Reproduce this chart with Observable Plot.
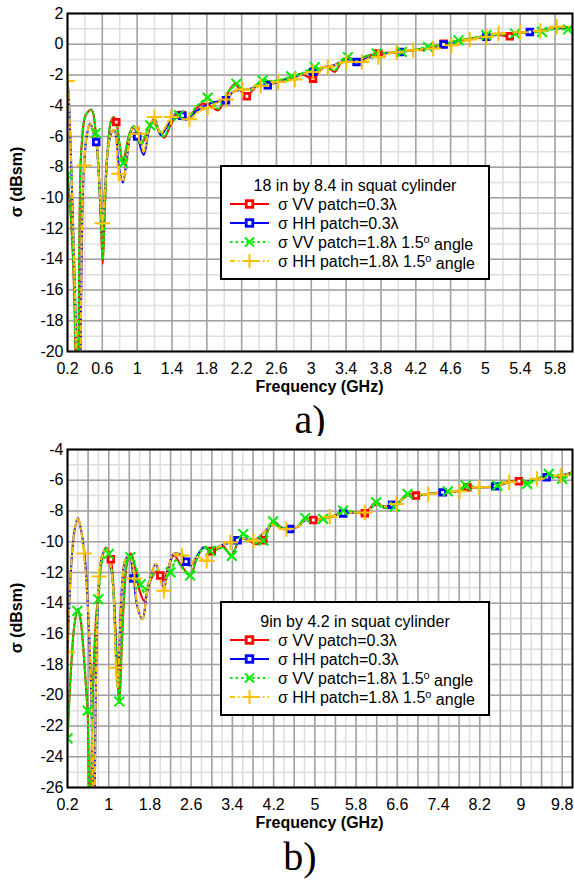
<!DOCTYPE html>
<html><head><meta charset="utf-8">
<script src="https://cdn.jsdelivr.net/npm/d3@7"></script>
<script src="https://cdn.jsdelivr.net/npm/@observablehq/plot@0.6"></script>
<style>
html,body{margin:0;padding:0;background:#fff;}
body{width:574px;height:880px;position:relative;overflow:hidden;font-family:Arial,"Liberation Sans",sans-serif;}
.panel{position:absolute;left:0;}
</style></head><body>
<div id="pa" class="panel" style="top:0px"></div>
<div id="pb" class="panel" style="top:436px"></div>
<script>
// ---------- Panel a: 18 in by 8.4 in squat cylinder ----------
const aXTicks = [0.2,0.6,1,1.4,1.8,2.2,2.6,3,3.4,3.8,4.2,4.6,5,5.4,5.8];
const aYTicks = [2,0,-2,-4,-6,-8,-10,-12,-14,-16,-18,-20];

const aVV_f = [0.20,0.23,0.26,0.285,0.305,0.315,0.325,0.34,0.36,0.41,0.476,0.52,0.55,0.58,0.605,0.63,0.66,0.70,0.73,0.76,0.80,0.835,0.87,0.92,0.965,1.00,1.04,1.09,1.14,1.18,1.24,1.31,1.38,1.48,1.58,1.66,1.75,1.84,1.93,2.02,2.12,2.20,2.26,2.34,2.44,2.55,2.66,2.78,2.89,3.02,3.10,3.17,3.27,3.35,3.42,3.52,3.62,3.77,3.90,4.02,4.15,4.27,4.40,4.52,4.65,4.76,4.90,5.01,5.15,5.28,5.40,5.51,5.62,5.72,5.85,6.00];
const aVV_v = [-8.5,-10.5,-13.5,-18,-25,-28,-22,-11,-6.8,-4.6,-4.26,-5.5,-7.5,-11,-14.3,-10.5,-7.0,-5.0,-4.74,-5.07,-6.6,-7.7,-6.9,-5.7,-5.35,-5.8,-6.55,-6.1,-5.3,-5.07,-5.5,-6.08,-5.3,-4.52,-4.85,-4.3,-3.87,-4.0,-4.3,-3.4,-2.6,-3.1,-3.4,-2.9,-2.35,-2.45,-2.35,-2.1,-1.95,-2.24,-1.7,-1.45,-1.8,-1.1,-0.85,-1.1,-0.8,-0.61,-0.55,-0.5,-0.4,-0.35,-0.2,0.0,0.2,0.3,0.4,0.52,0.6,0.52,0.75,0.8,0.85,1.0,1.05,1.12];

const aHH_f = [0.20,0.215,0.235,0.26,0.29,0.32,0.335,0.35,0.37,0.39,0.42,0.46,0.50,0.53,0.56,0.60,0.63,0.67,0.71,0.74,0.79,0.836,0.88,0.93,0.965,1.00,1.075,1.14,1.20,1.27,1.36,1.465,1.56,1.65,1.75,1.88,2.02,2.10,2.21,2.30,2.40,2.50,2.62,2.75,2.88,3.02,3.15,3.27,3.40,3.52,3.65,3.77,3.90,4.02,4.17,4.27,4.40,4.52,4.65,4.76,4.90,5.01,5.15,5.28,5.40,5.51,5.63,5.72,5.85,6.00];
const aHH_v = [-2.4,-3.5,-6.5,-11,-17,-24,-28,-20,-11,-7.9,-6.0,-5.15,-5.8,-6.37,-8.5,-12.2,-9.5,-6.6,-5.7,-5.6,-8.0,-9.0,-7.5,-5.7,-5.4,-5.9,-7.2,-5.5,-4.85,-5.9,-5.2,-4.41,-4.91,-4.5,-4.09,-3.76,-3.65,-3.1,-2.95,-2.9,-2.7,-2.67,-2.46,-2.25,-1.95,-1.8,-1.5,-1.35,-1.0,-1.15,-0.9,-0.7,-0.55,-0.5,-0.39,-0.32,-0.25,-0.02,0.15,0.3,0.42,0.48,0.65,0.7,0.78,0.8,0.87,1.0,1.08,1.12];

const aVV18_f = [0.20,0.23,0.26,0.285,0.305,0.315,0.325,0.34,0.36,0.41,0.476,0.526,0.55,0.58,0.605,0.63,0.66,0.70,0.73,0.76,0.80,0.84,0.87,0.92,0.965,1.00,1.04,1.09,1.15,1.18,1.24,1.31,1.38,1.48,1.58,1.66,1.75,1.81,1.88,1.93,2.02,2.14,2.20,2.26,2.34,2.44,2.55,2.66,2.77,2.89,3.04,3.10,3.17,3.27,3.35,3.42,3.52,3.62,3.75,3.90,4.04,4.15,4.34,4.52,4.69,4.85,5.01,5.15,5.34,5.51,5.65,5.80,5.95,6.00];
const aVV18_v = [-8.5,-10.5,-13.5,-18,-25,-28,-22,-11,-6.8,-4.6,-4.3,-5.78,-7.5,-11,-14.0,-10.5,-7.0,-5.0,-4.8,-5.1,-6.6,-7.74,-6.9,-5.7,-5.35,-5.8,-6.5,-6.0,-5.28,-5.1,-5.5,-6.0,-5.2,-4.63,-4.85,-4.2,-3.7,-3.48,-3.9,-4.2,-3.3,-2.57,-3.0,-3.3,-2.8,-2.35,-2.4,-2.3,-2.09,-1.9,-1.48,-1.6,-1.45,-1.7,-1.0,-0.83,-1.05,-0.8,-0.61,-0.55,-0.5,-0.4,-0.18,0.0,0.26,0.4,0.59,0.6,0.7,0.78,0.8,1.0,0.96,1.05];

const aHH18_f = [0.20,0.215,0.235,0.26,0.29,0.32,0.335,0.35,0.37,0.39,0.42,0.46,0.50,0.53,0.56,0.60,0.63,0.67,0.71,0.74,0.79,0.836,0.88,0.93,0.965,1.02,1.075,1.14,1.20,1.27,1.39,1.465,1.60,1.70,1.81,1.92,2.02,2.10,2.21,2.32,2.42,2.52,2.62,2.71,2.81,2.90,3.02,3.19,3.27,3.40,3.48,3.58,3.67,3.77,3.90,4.02,4.17,4.27,4.40,4.52,4.61,4.72,4.82,4.92,5.01,5.15,5.28,5.40,5.51,5.63,5.72,5.82,6.00];
const aHH18_v = [-2.4,-3.5,-6.5,-11,-17,-24,-28,-20,-11,-7.9,-6.0,-5.15,-5.8,-6.4,-8.5,-11.65,-9.5,-6.6,-5.7,-5.6,-8.43,-8.9,-7.5,-5.7,-5.4,-5.82,-7.0,-5.4,-4.74,-5.8,-4.74,-4.45,-4.89,-4.4,-4.13,-3.8,-3.6,-3.1,-2.95,-2.9,-2.7,-2.65,-2.46,-2.4,-2.3,-1.95,-1.8,-1.48,-1.35,-1.15,-1.1,-1.15,-0.9,-0.83,-0.6,-0.5,-0.39,-0.32,-0.28,-0.05,-0.07,0.15,0.3,0.42,0.48,0.7,0.7,0.78,0.8,0.87,1.0,1.13,1.12];

// markers (panel a)
const aVVmk_f = [0.76,1.51,2.26,3.02,3.77,4.52,5.28];
const aVVmk_v = [-5.07,-4.6,-3.39,-2.24,-0.61,0.04,0.52];
const aHHmk_f = [0.53,1.0,1.52,2.02,2.5,3.02,3.52,4.02,4.52,5.01,5.51];
const aHHmk_v = [-6.37,-6.0,-4.65,-3.65,-2.67,-1.8,-1.15,-0.5,-0.02,0.48,0.8];
const aVV18mk_f = [0.2,0.526,0.84,1.15,1.48,1.81,2.14,2.44,2.77,3.04,3.42,3.75,4.04,4.34,4.69,5.01,5.34,5.65,5.95];
const aVV18mk_v = [-8.5,-5.78,-7.74,-5.28,-4.63,-3.48,-2.57,-2.35,-2.09,-1.48,-0.83,-0.61,-0.5,-0.18,0.26,0.59,0.7,0.8,0.96];
const aHH18mk_f = [0.2,0.39,0.6,0.79,1.02,1.2,1.39,1.6,1.81,2.02,2.21,2.42,2.62,2.81,3.02,3.19,3.4,3.58,3.77,3.98,4.17,4.4,4.61,4.82,5.01,5.15,5.4,5.63,5.82];
const aHH18mk_v = [-2.4,-7.9,-11.65,-8.43,-5.82,-4.74,-4.74,-4.89,-4.13,-3.6,-2.95,-2.7,-2.46,-2.3,-1.8,-1.48,-1.15,-1.15,-0.83,-0.52,-0.39,-0.28,-0.07,0.3,0.48,0.7,0.78,0.87,1.13];

// ---------- Panel b: 9in by 4.2 in squat cylinder ----------
const bXTicks = [0.2,1,1.8,2.6,3.4,4.2,5,5.8,6.6,7.4,8.2,9,9.8];
const bYTicks = [-4,-6,-8,-10,-12,-14,-16,-18,-20,-22,-24,-26];

const bVV_f = [0.20,0.27,0.335,0.40,0.45,0.496,0.56,0.59,0.615,0.635,0.66,0.70,0.75,0.785,0.85,0.946,1.04,1.10,1.16,1.205,1.25,1.30,1.36,1.43,1.52,1.60,1.69,1.80,1.94,2.05,2.15,2.26,2.42,2.58,2.70,2.84,2.97,3.10,3.22,3.38,3.55,3.70,3.87,4.00,4.19,4.39,4.55,4.68,4.81,4.97,5.16,5.29,5.45,5.61,5.80,5.97,6.19,6.35,6.55,6.80,6.96,7.20,7.48,7.74,7.96,8.19,8.51,8.77,8.96,9.12,9.41,9.54,9.73,10.0];
const bVV_v = [-22.8,-18.2,-15.4,-14.4,-15.0,-16.5,-19.5,-21.0,-26,-32,-26,-19,-15.2,-13.75,-11.5,-10.38,-11.14,-13.5,-18,-20.5,-17,-13.5,-11.3,-10.77,-11.8,-13.2,-13.86,-12.6,-11.9,-12.55,-11.8,-10.9,-11.6,-12.2,-11.2,-10.37,-10.6,-10.5,-10.3,-10.9,-9.83,-9.9,-10.16,-9.9,-8.68,-9.18,-9.1,-9.0,-8.46,-8.59,-8.5,-8.42,-8.2,-8.09,-8.1,-8.15,-7.44,-7.8,-7.72,-6.89,-7.0,-6.9,-6.79,-6.74,-6.46,-6.46,-6.41,-6.07,-6.07,-6.1,-5.81,-5.6,-5.81,-5.48];

const bHH_f = [0.20,0.27,0.335,0.40,0.46,0.53,0.59,0.656,0.69,0.71,0.73,0.77,0.82,0.88,0.95,1.02,1.076,1.12,1.17,1.21,1.26,1.32,1.40,1.48,1.56,1.655,1.75,1.91,1.99,2.07,2.16,2.26,2.42,2.58,2.70,2.84,2.97,3.10,3.22,3.36,3.50,3.62,3.81,3.95,4.19,4.35,4.52,4.68,4.81,4.97,5.16,5.29,5.45,5.55,5.75,5.97,6.19,6.35,6.58,6.80,6.96,7.20,7.48,7.81,7.96,8.19,8.50,8.77,8.96,9.10,9.31,9.50,9.77,10.0];
const bHH_v = [-17.2,-11.7,-9.3,-8.46,-9.2,-10.8,-13.9,-19.3,-26,-31,-26,-16,-12.3,-10.8,-10.5,-11.3,-12.5,-15.5,-19.5,-16.5,-12.8,-11.2,-10.9,-12.3,-14.3,-15.05,-13.2,-11.46,-12.2,-13.0,-11.7,-10.8,-10.9,-11.57,-11.0,-10.4,-10.5,-10.4,-10.2,-10.05,-9.9,-9.8,-9.94,-9.6,-8.9,-9.1,-9.18,-9.0,-8.6,-8.6,-8.5,-8.4,-8.25,-8.16,-8.1,-8.1,-7.6,-7.7,-7.55,-7.0,-7.0,-6.9,-6.79,-6.72,-6.5,-6.46,-6.4,-6.13,-6.07,-6.1,-5.91,-5.8,-5.7,-5.5];

const bVV18_f = [0.20,0.27,0.335,0.39,0.45,0.496,0.56,0.59,0.615,0.635,0.66,0.70,0.75,0.80,0.87,0.946,1.00,1.06,1.12,1.16,1.205,1.25,1.30,1.36,1.42,1.52,1.62,1.69,1.80,1.94,2.05,2.20,2.30,2.42,2.58,2.70,2.84,2.97,3.10,3.22,3.39,3.50,3.61,3.75,3.87,4.00,4.19,4.35,4.55,4.68,4.81,4.97,5.16,5.35,5.55,5.80,5.97,6.19,6.35,6.55,6.80,6.96,7.20,7.58,7.74,7.93,8.19,8.54,8.77,8.96,9.12,9.35,9.54,9.80,10.0];
const bVV18_v = [-22.8,-18.2,-15.4,-14.5,-15.0,-16.5,-19.5,-21.0,-26,-32,-26,-19,-15.5,-13.75,-11.3,-10.4,-10.8,-12,-15,-18.5,-20.4,-17,-13.5,-11.3,-11.0,-11.6,-12.77,-13.3,-12.5,-11.9,-12.4,-12.0,-11.2,-11.7,-12.2,-11.2,-10.4,-10.6,-10.5,-10.4,-10.92,-10.0,-9.5,-9.8,-10.1,-9.94,-8.68,-9.1,-9.1,-9.0,-8.46,-8.6,-8.52,-8.35,-7.98,-8.1,-8.15,-7.44,-7.8,-7.72,-6.89,-7.0,-6.9,-6.72,-6.74,-6.35,-6.46,-6.35,-6.1,-6.07,-6.24,-5.85,-5.59,-5.91,-5.5];

const bHH18_f = [0.20,0.27,0.335,0.40,0.46,0.52,0.59,0.656,0.69,0.71,0.73,0.77,0.81,0.88,0.95,1.02,1.076,1.14,1.17,1.21,1.26,1.32,1.40,1.50,1.56,1.655,1.75,1.91,1.99,2.07,2.16,2.26,2.42,2.58,2.70,2.90,3.00,3.10,3.22,3.36,3.50,3.62,3.81,3.95,4.19,4.30,4.45,4.68,4.81,4.97,5.16,5.29,5.45,5.55,5.75,5.97,6.19,6.35,6.58,6.80,6.96,7.20,7.48,7.81,7.96,8.19,8.50,8.77,8.96,9.10,9.31,9.50,9.77,10.0];
const bHH18_v = [-17.2,-11.7,-9.3,-8.46,-9.2,-10.77,-13.9,-19.3,-26,-31,-26,-16,-12.27,-10.8,-10.5,-11.3,-12.5,-18.2,-19.5,-16.5,-12.8,-11.2,-10.9,-12.4,-14.3,-15.05,-13.2,-11.46,-12.2,-13.2,-11.7,-10.8,-10.9,-11.57,-11.0,-11.25,-10.5,-10.4,-10.2,-10.05,-9.9,-9.8,-9.94,-9.6,-8.9,-9.1,-9.18,-9.0,-8.6,-8.6,-8.5,-8.37,-8.25,-8.16,-8.1,-8.1,-7.6,-7.7,-7.55,-7.0,-7.0,-6.9,-6.79,-6.72,-6.5,-6.46,-6.4,-6.13,-6.07,-6.1,-5.91,-5.8,-5.7,-5.5];

// markers (panel b)
const bVVmk_f = [1.04,2.0,3.0,4.0,4.97,5.97,6.96,7.96,8.96];
const bVVmk_v = [-11.14,-12.2,-10.6,-9.9,-8.59,-8.15,-7.0,-6.46,-6.07];
const bHHmk_f = [1.48,2.5,3.5,4.52,5.55,6.5,7.48,8.5,9.5];
const bHHmk_v = [-12.4,-11.3,-9.9,-9.18,-8.16,-7.6,-6.79,-6.4,-5.8];
const bVV18mk_f = [0.2,0.39,0.59,0.80,1.0,1.205,1.42,1.62,2.2,2.58,2.97,3.39,3.61,4.0,4.19,4.81,5.16,5.55,6.19,6.55,6.8,7.58,7.93,8.54,9.12,9.54,9.8];
const bVV18mk_v = [-22.8,-14.5,-21.0,-13.75,-10.8,-20.4,-11.0,-12.77,-12.0,-12.2,-10.6,-10.92,-9.5,-9.94,-8.68,-8.46,-8.52,-7.98,-7.44,-7.72,-6.89,-6.72,-6.35,-6.35,-6.24,-5.59,-5.91];
const bHH18mk_f = [0.2,0.52,0.81,1.14,1.50,2.07,2.42,2.9,3.36,3.81,4.45,5.29,5.97,6.58,7.2,7.81,8.19,8.77,9.31,9.77];
const bHH18mk_v = [-17.2,-10.77,-12.27,-18.2,-12.4,-13.2,-10.9,-11.25,-10.05,-9.94,-9.18,-8.37,-8.1,-7.55,-6.9,-6.72,-6.46,-6.13,-5.91,-5.7];

const legendLabels = ["VV patch=0.3\u03bb","HH patch=0.3\u03bb","VV patch=1.8\u03bb 1.5","HH patch=1.8\u03bb 1.5"];

// ---------- drawing ----------
const C = {vv:"#ff0000", hh:"#0000ff", vv18:"#00ee00", hh18:"#ffc000"};
const DASH = {vv:null, hh:null, vv18:"2.5,3", hh18:"5,3,1.5,3"};
const FONT = "Arial, 'Liberation Sans', sans-serif";
const pts = (f, v) => f.map((x, i) => ({f: x, v: v[i]}));

function makePanel(el, cfg) {
  const H = cfg.height;
  const [x0, x1] = cfg.xDomain, [y0, y1] = cfg.yDomain;
  const xMinor = d3.range(x0, x1 + 1e-9, 0.2).map(d => +d.toFixed(2));
  const xMajor = d3.range(x0, x1 + 1e-9, 0.4).map(d => +d.toFixed(2));
  const yMinor = d3.range(y0, y1 + 1e-9, 1);
  const yMajor = d3.range(y0, y1 + 1e-9, 2);
  const line = (d, key) => Plot.line(d, {x: "f", y: "v", stroke: C[key], strokeWidth: 2.1, strokeDasharray: DASH[key], curve: "catmull-rom", clip: true});
  const svg = Plot.plot({
    width: 574, height: H,
    marginLeft: 67, marginRight: 2, marginTop: 13, marginBottom: H - 351,
    style: {fontFamily: FONT, fontSize: "16px", background: "white", color: "black", overflow: "visible"},
    x: {domain: cfg.xDomain, ticks: cfg.xTicks, tickSize: 0, tickPadding: 11, tickFormat: d => String(d), label: null},
    y: {domain: cfg.yDomain, ticks: cfg.yTicks, tickSize: 0, tickPadding: 4, tickFormat: d => String(d), label: null},
    marks: [
      Plot.ruleX(xMinor, {stroke: "#dedede", strokeWidth: 1.5}),
      Plot.ruleY(yMinor, {stroke: "#dedede", strokeWidth: 1.5}),
      Plot.ruleX(xMajor, {stroke: "#a2a2a2", strokeWidth: 1.5}),
      Plot.ruleY(yMajor, {stroke: "#a2a2a2", strokeWidth: 1.5}),
      line(cfg.vv, "vv"),
      line(cfg.hh, "hh"),
      line(cfg.vv18, "vv18"),
      line(cfg.hh18, "hh18"),
      Plot.dot(cfg.vvMk, {x: "f", y: "v", symbol: "square", r: 3.2, fill: "white", stroke: C.vv, strokeWidth: 2.8, clip: true}),
      Plot.dot(cfg.hhMk, {x: "f", y: "v", symbol: "square", r: 3.2, fill: "white", stroke: C.hh, strokeWidth: 2.8, clip: true}),
      Plot.dot(cfg.vv18Mk, {x: "f", y: "v", symbol: "times", r: 4.5, stroke: C.vv18, strokeWidth: 2, clip: true}),
      Plot.dot(cfg.hh18Mk, {x: "f", y: "v", symbol: "plus", r: 5, stroke: C.hh18, strokeWidth: 2, clip: true}),
      Plot.frame({stroke: "black", strokeWidth: 2})
    ]
  });
  const s = d3.select(svg);
  // axis titles
  s.append("text").attr("x", 319.5).attr("y", 392).attr("text-anchor", "middle")
    .attr("font-weight", "bold").attr("font-size", 16).attr("font-family", FONT).text("Frequency (GHz)");
  s.append("text").attr("transform", "translate(22,182) rotate(-90)").attr("text-anchor", "middle")
    .attr("font-weight", "bold").attr("font-size", 16).attr("font-family", FONT).text("\u03c3 (dBsm)");
  // panel tag
  s.append("text").attr("x", cfg.tagX).attr("y", cfg.tagY).attr("text-anchor", "middle")
    .attr("font-family", "'Liberation Serif','Times New Roman',serif").attr("font-size", 40).text(cfg.tag);
  // legend box
  const g = s.append("g").attr("font-family", FONT).attr("font-size", 16).attr("text-anchor", "start");
  g.append("rect").attr("x", 221).attr("y", 166).attr("width", 268).attr("height", 113)
    .attr("fill", "white").attr("stroke", "black").attr("stroke-width", 2);
  g.append("text").attr("x", 355).attr("y", 185).attr("dy", "0.35em").attr("text-anchor", "middle").text(cfg.title);
  const keys = ["vv", "hh", "vv18", "hh18"];
  keys.forEach((k, i) => {
    const y = 204 + i * 19;
    g.append("line").attr("x1", 230).attr("x2", 269).attr("y1", y).attr("y2", y)
      .attr("stroke", C[k]).attr("stroke-width", 2).attr("stroke-dasharray", DASH[k]);
    const cx = 249.5;
    if (k === "vv" || k === "hh") {
      g.append("rect").attr("x", cx - 3.3).attr("y", y - 3.3).attr("width", 6.6).attr("height", 6.6)
        .attr("fill", "white").attr("stroke", C[k]).attr("stroke-width", 2.8);
    } else if (k === "vv18") {
      g.append("path").attr("d", `M${cx-4.5},${y-4.5}L${cx+4.5},${y+4.5}M${cx-4.5},${y+4.5}L${cx+4.5},${y-4.5}`)
        .attr("stroke", C[k]).attr("stroke-width", 2);
    } else {
      g.append("path").attr("d", `M${cx-7},${y}L${cx+7},${y}M${cx},${y-7}L${cx},${y+7}`)
        .attr("stroke", C[k]).attr("stroke-width", 2);
    }
    const t = g.append("text").attr("x", 278).attr("y", y).attr("dy", "0.35em").attr("text-anchor", "start");
    t.append("tspan").text("\u03c3 " + legendLabels[i]);
    if (i >= 2) {
      t.append("tspan").attr("dy", "-0.45em").attr("font-size", 11).text("o");
      t.append("tspan").attr("dy", "0.45em").text(" angle");
    }
  });
  el.appendChild(svg);
}

makePanel(document.getElementById("pa"), {
  height: 436, xDomain: [0.2, 6.0], yDomain: [-20, 2], xTicks: aXTicks, yTicks: aYTicks,
  vv: pts(aVV_f, aVV_v), hh: pts(aHH_f, aHH_v), vv18: pts(aVV18_f, aVV18_v), hh18: pts(aHH18_f, aHH18_v),
  vvMk: pts(aVVmk_f, aVVmk_v), hhMk: pts(aHHmk_f, aHHmk_v), vv18Mk: pts(aVV18mk_f, aVV18mk_v), hh18Mk: pts(aHH18mk_f, aHH18mk_v),
  title: "18 in by 8.4 in squat cylinder", tag: "a)", tagX: 310, tagY: 433
});
makePanel(document.getElementById("pb"), {
  height: 444, xDomain: [0.2, 10.0], yDomain: [-26, -4], xTicks: bXTicks, yTicks: bYTicks,
  vv: pts(bVV_f, bVV_v), hh: pts(bHH_f, bHH_v), vv18: pts(bVV18_f, bVV18_v), hh18: pts(bHH18_f, bHH18_v),
  vvMk: pts(bVVmk_f, bVVmk_v), hhMk: pts(bHHmk_f, bHHmk_v), vv18Mk: pts(bVV18mk_f, bVV18mk_v), hh18Mk: pts(bHH18mk_f, bHH18mk_v),
  title: "9in by 4.2 in squat cylinder", tag: "b)", tagX: 300, tagY: 434
});
</script>
</body></html>
